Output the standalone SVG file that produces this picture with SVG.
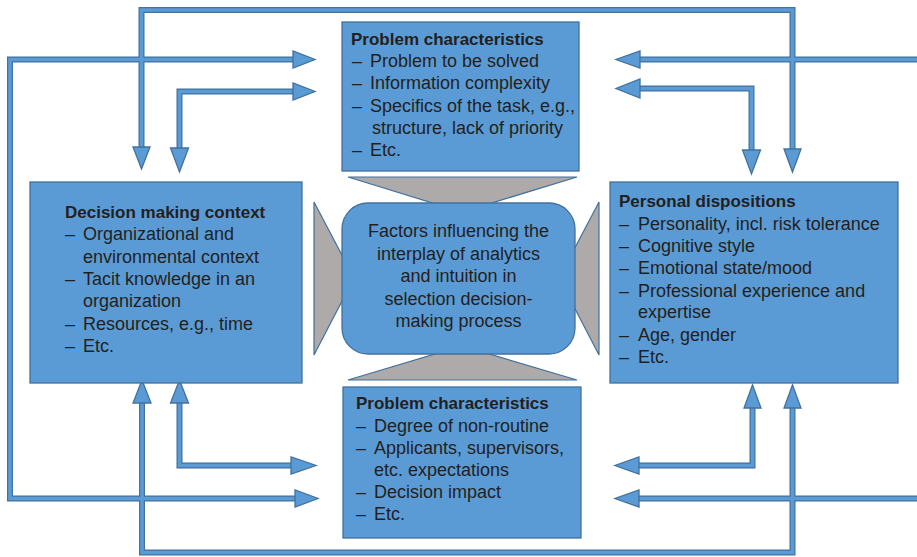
<svg xmlns="http://www.w3.org/2000/svg" width="917" height="557" viewBox="0 0 917 557">
<style>
.box{fill:#5b9bd5;stroke:#41719c;stroke-width:1.3}
.tri{fill:#aeaaaa;stroke:#41719c;stroke-width:1.2}
.so{fill:none;stroke:#41719c;stroke-width:6;stroke-linejoin:miter}
.si{fill:none;stroke:#5b9bd5;stroke-width:3.6;stroke-linejoin:miter}
.hd{fill:#5b9bd5;stroke:#41719c;stroke-width:1.3;stroke-linejoin:miter}
text{font-family:"Liberation Sans",Arial,sans-serif;font-size:18px;fill:#231f20}
.b{font-weight:bold;font-size:17px}
.c{text-anchor:middle}
</style>
<rect width="917" height="557" fill="#ffffff"/>
<g id="connectors">
<path class="so" d="M141.5,148 V10 H792.5 V150"/>
<path class="so" d="M294,59.5 H10 V498.5 H296"/>
<path class="so" d="M293,91.5 H179.5 V149"/>
<path class="so" d="M179.5,402 V465.5 H292"/>
<path class="so" d="M142,402 V552.5 H792.5 V407"/>
<path class="so" d="M917,59.5 H640"/>
<path class="so" d="M640,88.5 H751.5 V151"/>
<path class="so" d="M752.5,407 V465.5 H639"/>
<path class="so" d="M917,498.5 H639"/>
<path class="si" d="M141.5,148 V10 H792.5 V150"/>
<path class="si" d="M294,59.5 H10 V498.5 H296"/>
<path class="si" d="M293,91.5 H179.5 V149"/>
<path class="si" d="M179.5,402 V465.5 H292"/>
<path class="si" d="M142,402 V552.5 H792.5 V407"/>
<path class="si" d="M917,59.5 H640"/>
<path class="si" d="M640,88.5 H751.5 V151"/>
<path class="si" d="M752.5,407 V465.5 H639"/>
<path class="si" d="M917,498.5 H639"/>
<polygon class="hd" points="133,147 150,147 141.5,169"/>
<polygon class="hd" points="784,149 801,149 792.5,172"/>
<polygon class="hd" points="293,51 293,68 315,59.5"/>
<polygon class="hd" points="295,490 295,507 318,498.5"/>
<polygon class="hd" points="293,83 293,100 315,91.5"/>
<polygon class="hd" points="170.5,148 188.5,148 179.5,172"/>
<polygon class="hd" points="170.5,403 188.5,403 179.5,380"/>
<polygon class="hd" points="291,457 291,474 316,465.5"/>
<polygon class="hd" points="133,403 151,403 142,380"/>
<polygon class="hd" points="784,408 801,408 792.5,385"/>
<polygon class="hd" points="640,51 640,68 616,59.5"/>
<polygon class="hd" points="640,79 640,98 616,88.5"/>
<polygon class="hd" points="742.5,150 760.5,150 751.5,174"/>
<polygon class="hd" points="744,408 761,408 752.5,385"/>
<polygon class="hd" points="639,457 639,474 615,465.5"/>
<polygon class="hd" points="639,490 639,507 615,498.5"/>
</g>
<g id="wedges">
<polygon class="tri" points="348,177 577,177 462,212"/>
<polygon class="tri" points="348,380 577,380 462,346"/>
<polygon class="tri" points="314,202 314,355 354,278"/>
<polygon class="tri" points="599,202 599,355 559,278"/>
</g>
<g id="center">
<rect class="box" x="342" y="203" width="233" height="151" rx="26" ry="26"/>
<text class="c" x="458.5" y="237">Factors influencing the</text>
<text class="c" x="458.5" y="260">interplay of analytics</text>
<text class="c" x="458.5" y="282">and intuition in</text>
<text class="c" x="458.5" y="305">selection decision-</text>
<text class="c" x="458.5" y="327">making process</text>
</g>
<g id="problem-top">
<rect class="box" x="342" y="22" width="237" height="149"/>
<text class="b" x="351" y="45">Problem characteristics</text>
<text x="352" y="67">–</text><text x="370" y="67">Problem to be solved</text>
<text x="352" y="89">–</text><text x="370" y="89">Information complexity</text>
<text x="352" y="112">–</text><text x="370" y="112">Specifics of the task, e.g.,</text>
<text x="372" y="134">structure, lack of priority</text>
<text x="352" y="156">–</text><text x="370" y="156">Etc.</text>
</g>
<g id="decision-context">
<rect class="box" x="30" y="182" width="272" height="201"/>
<text class="b" x="65" y="218">Decision making context</text>
<text x="65" y="240">–</text><text x="83" y="240">Organizational and</text>
<text x="83" y="263">environmental context</text>
<text x="65" y="285">–</text><text x="83" y="285">Tacit knowledge in an</text>
<text x="83" y="307">organization</text>
<text x="65" y="330">–</text><text x="83" y="330">Resources, e.g., time</text>
<text x="65" y="352">–</text><text x="83" y="352">Etc.</text>
</g>
<g id="personal-dispositions">
<rect class="box" x="610" y="182" width="288" height="201"/>
<text class="b" x="619" y="207">Personal dispositions</text>
<text x="619" y="230">–</text><text x="638" y="230">Personality, incl. risk tolerance</text>
<text x="619" y="252">–</text><text x="638" y="252">Cognitive style</text>
<text x="619" y="274">–</text><text x="638" y="274">Emotional state/mood</text>
<text x="619" y="297">–</text><text x="638" y="297">Professional experience and</text>
<text x="638" y="318">expertise</text>
<text x="619" y="341">–</text><text x="638" y="341">Age, gender</text>
<text x="619" y="363">–</text><text x="638" y="363">Etc.</text>
</g>
<g id="problem-bottom">
<rect class="box" x="343" y="387" width="238" height="151"/>
<text class="b" x="356" y="409">Problem characteristics</text>
<text x="356" y="432">–</text><text x="374" y="432">Degree of non-routine</text>
<text x="356" y="454">–</text><text x="374" y="454">Applicants, supervisors,</text>
<text x="374" y="476">etc. expectations</text>
<text x="356" y="498">–</text><text x="374" y="498">Decision impact</text>
<text x="356" y="520">–</text><text x="374" y="520">Etc.</text>
</g>
</svg>
